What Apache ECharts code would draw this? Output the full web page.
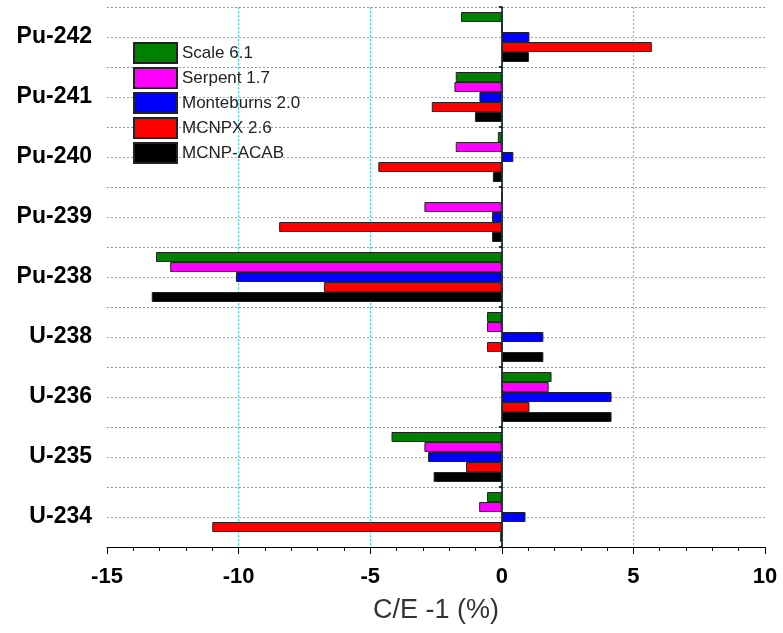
<!DOCTYPE html>
<html><head><meta charset="utf-8">
<script src="https://cdn.jsdelivr.net/npm/echarts@6/dist/echarts.min.js"></script>
<style>html,body{margin:0;padding:0;background:#fff}#c{width:783px;height:633px}</style>
</head><body><div id="c"></div>
<script>
// Categories, bottom to top
const categories = ['U-234','U-235','U-236','U-238','Pu-238','Pu-239','Pu-240','Pu-241','Pu-242'];
const seriesNames = ['Scale 6.1','Serpent 1.7','Monteburns 2.0','MCNPX 2.6','MCNP-ACAB'];
const scale61     = [-0.56, -4.19, 1.89, -0.56, -13.14, 0,     -0.15, -1.75, -1.55];
const serpent17   = [-0.86, -2.94, 1.78, -0.56, -12.6,  -2.94, -1.75, -1.8,  0];
const monteburns  = [0.9,   -2.8,  4.17, 1.58,  -10.1,  -0.37, 0.44,  -0.85, 1.05];
const mcnpx26     = [-11.0, -1.36, 1.05, -0.56, -6.76,  -8.46, -4.69, -2.66, 5.7];
const mcnpAcab    = [-0.06, -2.59, 4.17, 1.58,  -13.3,  -0.37, -0.34, -1.02, 1.03];
const colors = ['#008000','#FF00FF','#0000FF','#FF0000','#000000'];
const xTicks = {min:-15, max:10, interval:5};

const chart = echarts.init(document.getElementById('c'), null, {renderer:'canvas'});
const dataSets = [scale61, serpent17, monteburns, mcnpx26, mcnpAcab];
const barSeries = dataSets.map((d,i)=>({
  name: seriesNames[i], type:'bar', data:d, yAxisIndex:0,
  barWidth:10, barGap:'0%', z:3,
  itemStyle:{color:colors[i], borderColor:'#222', borderWidth:1}
}));
barSeries.push({
  name:'_centers', type:'line', data:[], yAxisIndex:0, z:1, silent:true,
  markLine:{silent:true, symbol:'none', label:{show:false}, z:1,
    lineStyle:{color:'#22DDEE', type:[2,2], width:1},
    data: categories.map(c=>({yAxis:c}))}
});
chart.setOption({
  animation:false,
  textStyle:{fontFamily:'Liberation Sans, Arial, sans-serif'},
  grid:{left:107, right:18, top:7, bottom:86},
  legend:{data:seriesNames, orient:'vertical', left:128, top:37, itemWidth:43, itemHeight:20, itemGap:3,
    textStyle:{fontSize:17, color:'#222'}, icon:'rect', backgroundColor:'transparent'},
  xAxis:{type:'value', min:xTicks.min, max:xTicks.max, interval:xTicks.interval,
    name:'C/E -1 (%)', nameLocation:'middle', nameGap:50,
    nameTextStyle:{fontSize:27, color:'#333'},
    axisLine:{show:true, lineStyle:{color:'#000', width:1}},
    axisTick:{show:true, length:7, lineStyle:{color:'#000'}},
    minorTick:{show:true, splitNumber:5, length:4, lineStyle:{color:'#000'}},
    axisLabel:{fontSize:22, fontWeight:'bold', color:'#000', margin:19},
    splitLine:{show:true, showMinLine:false, showMaxLine:false, lineStyle:{color:'#22DDEE', type:[2,2], width:1}}
  },
  yAxis:[
    {type:'category', data:categories, position:'left',
     axisLine:{show:false, onZero:false}, axisTick:{show:false},
     axisLabel:{fontSize:23, fontWeight:'bold', color:'#000', margin:15},
     splitLine:{show:true, lineStyle:{color:'#999999', type:[2,2], width:1}}},
    {type:'category', data:categories, position:'left',
     axisLine:{show:true, onZero:true, lineStyle:{color:'#000', width:1.5}},
     axisTick:{show:true, length:3, inside:false, lineStyle:{color:'#000', width:1.5}},
     axisLabel:{show:false}, splitLine:{show:false}}
  ],
  series: barSeries
});
</script></body></html>
